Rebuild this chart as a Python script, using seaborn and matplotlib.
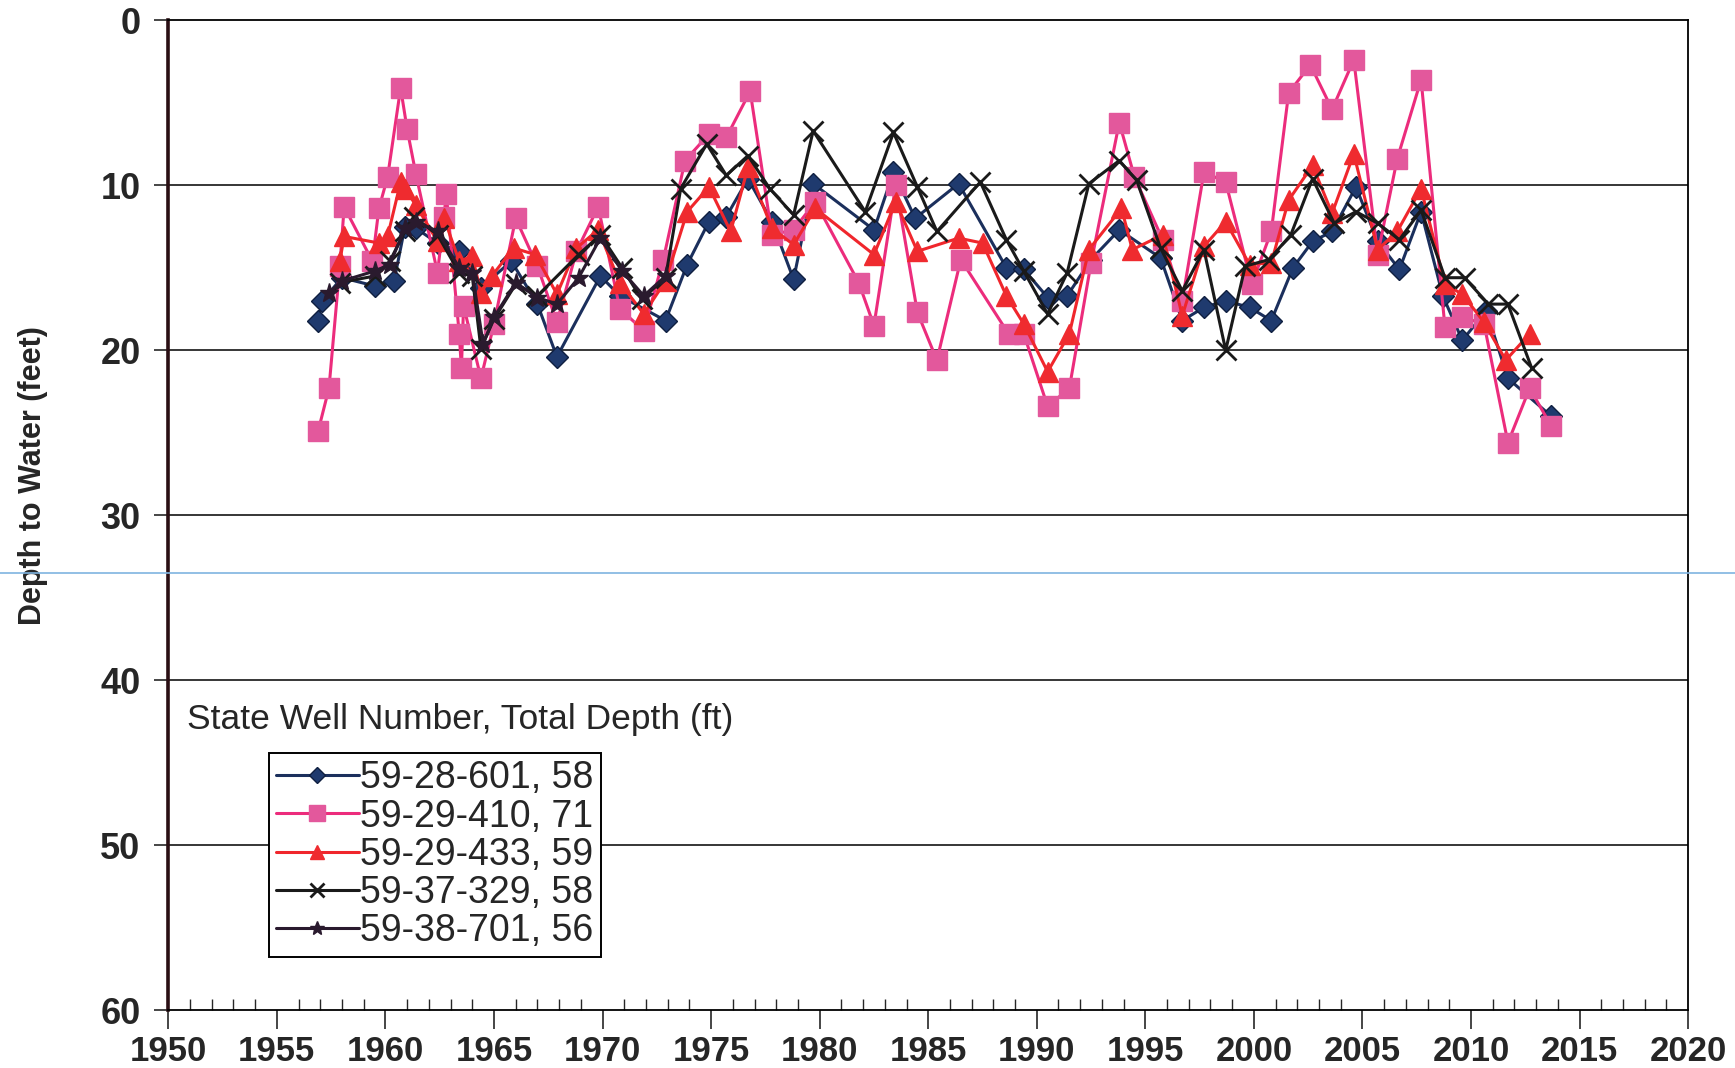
import seaborn as sns
import matplotlib.pyplot as plt
from matplotlib.lines import Line2D
from matplotlib.ticker import MultipleLocator

sns.set_style('white')
plt.rcParams['font.family'] = ['Liberation Sans', 'DejaVu Sans']

# ---- data (year, depth to water in feet) ----
yr_601 = [1956.9, 1957.1, 1958.0, 1959.5, 1960.4, 1960.9, 1961.4, 1962.4, 1963.4, 1964.4,
          1965.8, 1967.0, 1967.9, 1969.9, 1970.8, 1972.9, 1973.9, 1974.9, 1975.7, 1976.7,
          1977.8, 1978.8, 1979.7, 1982.5, 1983.4, 1984.4, 1986.4, 1988.6, 1989.4, 1990.5,
          1991.4, 1992.5, 1993.8, 1995.7, 1996.7, 1997.7, 1998.7, 1999.8, 2000.8, 2001.8,
          2002.7, 2003.6, 2004.7, 2005.7, 2006.7, 2007.7, 2008.7, 2009.6, 2010.7, 2011.7,
          2013.7]
dep_601 = [18.2, 17.0, 15.6, 16.1, 15.8, 12.5, 12.6, 13.5, 14.0, 16.2,
           14.6, 17.2, 20.4, 15.5, 16.7, 18.2, 14.8, 12.2, 11.9, 9.6,
           12.2, 15.7, 9.9, 12.7, 9.2, 12.0, 9.9, 15.0, 15.1, 16.8,
           16.7, 14.5, 12.7, 14.4, 18.2, 17.4, 17.0, 17.4, 18.2, 15.0,
           13.4, 12.8, 10.1, 13.4, 15.1, 11.6, 16.7, 19.4, 17.6, 21.7,
           24.0]

yr_410 = [1956.9, 1957.4, 1957.9, 1958.1, 1959.4, 1959.7, 1960.1, 1960.7, 1961.0, 1961.4,
          1962.4, 1962.7, 1962.8, 1963.4, 1963.5, 1963.6, 1964.4, 1965.0, 1966.0, 1967.0,
          1967.9, 1968.8, 1969.8, 1970.8, 1971.9, 1972.8, 1973.8, 1974.9, 1975.7, 1976.8,
          1977.8, 1978.8, 1979.8, 1981.8, 1982.5, 1983.5, 1984.5, 1985.4, 1986.5, 1988.7,
          1989.4, 1990.5, 1991.5, 1992.5, 1993.8, 1994.5, 1995.8, 1996.7, 1997.7, 1998.7,
          1999.9, 2000.8, 2001.6, 2002.6, 2003.6, 2004.6, 2005.7, 2006.6, 2007.7, 2008.8,
          2009.6, 2010.6, 2011.7, 2012.7, 2013.7]
dep_410 = [24.9, 22.3, 14.9, 11.3, 14.6, 11.4, 9.5, 4.1, 6.6, 9.3,
           15.3, 11.9, 10.5, 19.0, 21.1, 17.3, 21.7, 18.4, 12.0, 14.9,
           18.3, 14.0, 11.3, 17.5, 18.8, 14.5, 8.5, 6.9, 7.1, 4.3,
           13.0, 12.7, 11.0, 15.9, 18.5, 10.0, 17.7, 20.6, 14.5, 19.0,
           19.0, 23.4, 22.3, 14.7, 6.2, 9.5, 13.3, 17.0, 9.2, 9.8,
           16.0, 12.8, 4.4, 2.7, 5.4, 2.4, 14.2, 8.4, 3.6, 18.6,
           18.0, 18.4, 25.6, 22.3, 24.6]

yr_433 = [1957.9, 1958.1, 1959.7, 1960.1, 1960.7, 1960.9, 1961.4, 1962.4, 1962.7, 1963.4,
          1964.0, 1964.4, 1964.9, 1965.9, 1966.9, 1967.9, 1968.8, 1969.8, 1970.8, 1971.9,
          1972.9, 1973.9, 1974.9, 1975.9, 1976.7, 1977.8, 1978.8, 1979.8, 1982.5, 1983.5,
          1984.5, 1986.4, 1987.5, 1988.6, 1989.4, 1990.5, 1991.5, 1992.4, 1993.9, 1994.4,
          1995.8, 1996.7, 1997.7, 1998.7, 1999.8, 2000.8, 2001.6, 2002.7, 2003.6, 2004.6,
          2005.7, 2006.6, 2007.7, 2008.8, 2009.6, 2010.6, 2011.6, 2012.7]
dep_433 = [14.6, 13.1, 13.5, 13.1, 9.8, 10.2, 11.2, 13.4, 12.0, 14.6,
           14.3, 16.5, 15.5, 13.8, 14.2, 16.6, 13.8, 12.7, 15.9, 17.8,
           15.8, 11.6, 10.1, 12.8, 8.9, 12.6, 13.6, 11.4, 14.2, 11.0,
           14.0, 13.2, 13.5, 16.7, 18.4, 21.3, 19.0, 13.9, 11.4, 13.9,
           13.0, 17.9, 13.7, 12.2, 14.8, 14.7, 10.9, 8.8, 11.7, 8.1,
           13.9, 12.8, 10.2, 16.0, 16.6, 18.3, 20.6, 19.0]

yr_329 = [1957.9, 1959.5, 1960.2, 1960.9, 1961.3, 1962.4, 1963.4, 1964.0, 1964.4, 1965.0,
          1966.0, 1967.0, 1968.9, 1969.9, 1970.9, 1971.8, 1972.9, 1973.6, 1974.8, 1975.7,
          1976.7, 1977.7, 1978.8, 1979.7, 1982.1, 1983.4, 1984.5, 1985.4, 1987.4, 1988.6,
          1989.4, 1990.5, 1991.4, 1992.4, 1993.8, 1994.6, 1995.7, 1996.7, 1997.7, 1998.7,
          1999.6, 2000.7, 2001.7, 2002.7, 2003.7, 2004.7, 2005.7, 2006.7, 2007.7, 2008.8,
          2009.7, 2010.8, 2011.7, 2012.8]
dep_329 = [15.9, 15.5, 14.6, 12.8, 11.9, 13.0, 15.3, 15.5, 19.9, 18.1,
           16.0, 16.7, 14.2, 13.0, 15.0, 16.9, 15.6, 10.2, 7.5, 9.4,
           8.2, 10.2, 11.8, 6.7, 11.6, 6.8, 10.1, 12.8, 9.8, 13.3,
           15.2, 17.8, 15.3, 9.9, 8.5, 9.7, 13.8, 16.4, 13.9, 20.0,
           14.9, 14.5, 13.0, 9.6, 12.3, 11.6, 12.3, 13.3, 11.5, 15.6,
           15.6, 17.2, 17.2, 21.1]

yr_701 = [1957.4, 1958.0, 1959.5, 1960.2, 1960.9, 1961.4, 1962.4, 1963.4, 1964.0, 1964.5,
          1965.0, 1966.0, 1967.0, 1967.9, 1968.9, 1969.9, 1970.9, 1971.9, 1972.9]
dep_701 = [16.5, 15.8, 15.2, 14.8, 12.6, 12.2, 12.8, 15.0, 15.3, 19.6,
           18.0, 15.9, 16.8, 17.2, 15.6, 13.2, 15.2, 16.7, 15.5]

well_labels = ['59-28-601, 58', '59-29-410, 71', '59-29-433, 59', '59-37-329, 58', '59-38-701, 56']
y_ticks = [0, 10, 20, 30, 40, 50, 60]
y_tick_labels = ['0', '10', '20', '30', '40', '50', '60']
x_ticks = [1950, 1955, 1960, 1965, 1970, 1975, 1980, 1985, 1990, 1995, 2000, 2005, 2010, 2015, 2020]
x_tick_labels = [str(v) for v in x_ticks]

fig, ax = plt.subplots(figsize=(17.35, 10.68), dpi=100)
fig.subplots_adjust(left=0.097, right=0.973, top=0.981, bottom=0.054)

# horizontal grid drawn underneath
for yv in y_ticks[1:-1]:
    ax.axhline(yv, color='black', lw=1.1, zorder=0)

styles = [
    (yr_601, dep_601, '#1b2f5c', 'D', 11, '#1f3a6e', '#0f1f40', 1.0),
    (yr_410, dep_410, '#ec2c7c', 's', 15, '#e3589c', '#e3589c', 1.0),
    (yr_433, dep_433, '#f0262c', '^', 14, '#ef2b2f', '#ef2b2f', 1.0),
    (yr_329, dep_329, '#1a1a1a', 'x', 14, 'none', '#1a1a1a', 2.0),
    (yr_701, dep_701, '#2a1a2e', '*', 14, '#2a1a2e', '#2a1a2e', 1.0),
]
for (xs, ys, lc, mk, ms, fc, ec, mew), lab in zip(styles, well_labels):
    sns.lineplot(x=xs, y=ys, ax=ax, sort=False, estimator=None, color=lc, lw=2.2,
                 marker=mk, markersize=ms, markerfacecolor=fc, markeredgecolor=ec,
                 markeredgewidth=mew, label=lab)

ax.set_xlim(1950, 2020)
ax.set_ylim(60, 0)
ax.set_xticks(x_ticks)
ax.set_xticklabels(x_tick_labels, fontsize=25, fontweight='bold')
ax.set_yticks(y_ticks)
ax.set_yticklabels(y_tick_labels, fontsize=26, fontweight='bold')
ax.xaxis.set_minor_locator(MultipleLocator(1))
ax.tick_params(axis='x', which='major', direction='out', length=14, width=1.2, pad=4, bottom=True)
ax.tick_params(axis='x', which='minor', direction='in', length=8, width=1.0, bottom=True)
ax.tick_params(axis='y', which='major', direction='out', length=10, width=1.2, pad=10, left=True)

for side in ['top', 'right', 'bottom']:
    ax.spines[side].set_color('black')
    ax.spines[side].set_linewidth(1.3)
ax.spines['left'].set_color('#2a0f14')
ax.spines['left'].set_linewidth(2.6)

ax.set_xlabel('')
ax.set_ylabel('Depth to Water (feet)', fontsize=22, fontweight='bold')
ax.yaxis.set_label_coords(-0.079, 0.54)

ax.text(0.012, 0.294, 'State Well Number, Total Depth (ft)', transform=ax.transAxes,
        fontsize=25.5, va='center', ha='left')
leg = ax.legend(loc='lower left', bbox_to_anchor=(0.066, 0.054), fontsize=27, frameon=True,
                fancybox=False, edgecolor='black', handlelength=2.2, handletextpad=0.05,
                borderpad=0.2, labelspacing=0.06, markerscale=0.75, borderaxespad=0)
leg.get_frame().set_linewidth(1.4)
leg.get_frame().set_alpha(1)

# faint scan line across the page
fig.add_artist(Line2D([0, 1], [0.4635, 0.4635], transform=fig.transFigure,
                      color='#7fb4e0', lw=1.2))

fig.savefig('out.png', dpi=100)
